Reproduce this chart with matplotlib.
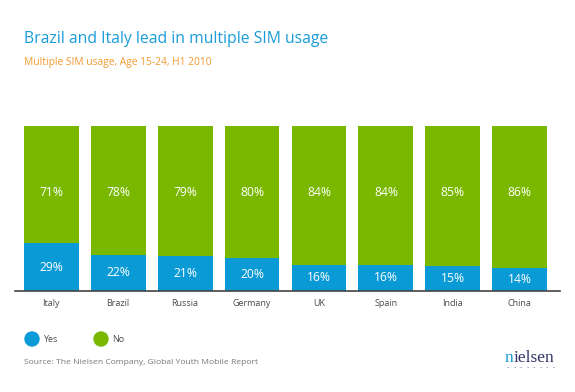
import matplotlib.pyplot as plt
from matplotlib.patches import Ellipse

# === Data ===
countries = ["Italy", "Brazil", "Russia", "Germany", "UK", "Spain", "India", "China"]
yes_pct = [29, 22, 21, 20, 16, 16, 15, 14]
no_pct = [71, 78, 79, 80, 84, 84, 85, 86]

BLUE = "#0a9ad6"
GREEN = "#7ab800"
GREY = "#4a4a4a"

plt.rcParams['font.family'] = ['Open Sans', 'DejaVu Sans']

W, H = 575, 392
fig = plt.figure(figsize=(W / 100, H / 100), dpi=100)
ax = fig.add_axes([15 / W, 101 / H, 545 / W, 165 / H])

x = range(len(countries))
ax.bar(x, yes_pct, width=0.82, color=BLUE)
ax.bar(x, no_pct, width=0.82, bottom=yes_pct, color=GREEN)

for i in x:
    ax.text(i, yes_pct[i] / 2, f"{yes_pct[i]}%", ha='center', va='center',
            color='white', fontsize=8.7)
    # "No" labels sit on one common line across the bars
    ax.text(i, 0.6, f"{no_pct[i]}%", ha='center', va='center',
            color='white', fontsize=8.7, transform=ax.get_xaxis_transform())

ax.set_xlim(-0.54, 7.6)
ax.set_ylim(0, 100)
ax.set_xticks(list(x))
ax.set_xticklabels(countries, fontsize=6.5, color=GREY)
ax.tick_params(axis='x', length=0, pad=6)
ax.set_yticks([])
for s in ['top', 'right', 'left']:
    ax.spines[s].set_visible(False)
ax.spines['bottom'].set_color('#444444')
ax.spines['bottom'].set_linewidth(1.2)

# titles
fig.text(24 / W, 1 - 39 / H, "Brazil and Italy lead in multiple SIM usage",
         fontsize=11.3, color="#1a9cd8", va='center')
fig.text(24 / W, 1 - 62 / H, "Multiple SIM usage, Age 15-24, H1 2010",
         fontsize=7.35, color="#f39a2e", va='center')

# legend
for cx, label, col in [(32, "Yes", BLUE), (101, "No", GREEN)]:
    fig.patches.append(Ellipse((cx / W, 1 - 339 / H), 14 / W, 14 / H, color=col,
                               transform=fig.transFigure, figure=fig))
    fig.text((cx + 11) / W, 1 - 339 / H, label, fontsize=6.5, color=GREY, va='center')

fig.text(24 / W, 1 - 362 / H, "Source: The Nielsen Company, Global Youth Mobile Report",
         fontsize=6.1, color="#777777", va='center')

# nielsen logo
t = fig.text(505 / W, 1 - 362 / H, "n", fontsize=12.5, color=BLUE,
             family='Liberation Serif', va='baseline', ha='left')
ax.annotate("ielsen", xy=(1, 0), xycoords=t, va='bottom', ha='left',
            fontsize=12.5, color="#333366", family='Liberation Serif')
for k in range(8):
    fig.text((508 + k * 6.5) / W, 1 - 369 / H, "·", fontsize=6, color="#333366",
             ha='center', va='center')

fig.savefig("out.png", dpi=100)
